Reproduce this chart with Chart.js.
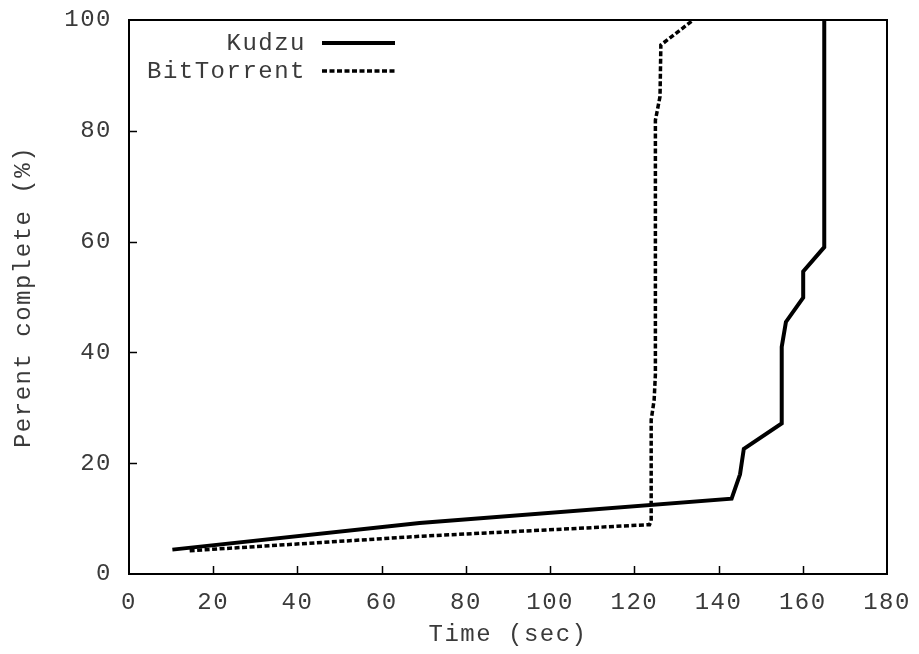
<!DOCTYPE html>
<html lang="en">
<head>
    <meta charset="UTF-8">
    <title>Kudzu vs BitTorrent</title>
    <script src="https://cdn.jsdelivr.net/npm/chart.js@4.4.0/dist/chart.umd.min.js"></script>
    <style>
        body { margin: 0; background: #fff; }
        #wrap { width: 919px; height: 654px; }
    </style>
</head>
<body>
    <div id="wrap"><canvas id="cdfChart"></canvas></div>
    <script>
        // values
        const seriesNames = ['Kudzu', 'BitTorrent'];
        const kudzuTime = [10.3, 69, 143.1, 145.1, 146.0, 155.0, 155.0, 156.0, 160.1, 160.1, 165.1, 165.1];
        const kudzuPct = [4.4, 9.2, 13.6, 18.0, 22.6, 27.2, 41.0, 45.5, 49.9, 54.6, 59.0, 100];
        const btTime = [14.4, 69, 123.6, 124.0, 124.0, 124.7, 125.0, 125.0, 126.1, 126.3, 134.0];
        const btPct = [4.2, 6.8, 8.9, 9.6, 27.8, 31.4, 36.0, 81.9, 86.2, 95.5, 100];
        const xTicks = [0, 20, 40, 60, 80, 100, 120, 140, 160, 180];
        const yTicks = [0, 20, 40, 60, 80, 100];

        const FONT = 'Liberation Mono';
        const SPACING = '1.5px';
        const TEXT = '#3a3a3a';

        function toPoints(xs, ys) {
            return xs.map((x, i) => ({ x: x, y: ys[i] }));
        }

        // gnuplot-like letter spacing for all canvas text
        const spacingPlugin = {
            id: 'spacing',
            beforeUpdate(chart) { chart.ctx.letterSpacing = SPACING; },
            beforeLayout(chart) { chart.ctx.letterSpacing = SPACING; },
            beforeDraw(chart) { chart.ctx.letterSpacing = SPACING; }
        };

        // box border + inward ticks
        const framePlugin = {
            id: 'frame',
            afterDraw(chart) {
                const ctx = chart.ctx;
                const a = chart.chartArea;
                const xs = chart.scales.x, ys = chart.scales.y;
                ctx.save();
                ctx.strokeStyle = '#000';
                ctx.lineWidth = 2;
                ctx.strokeRect(a.left, a.top, a.right - a.left, a.bottom - a.top);
                ctx.lineWidth = 1.5;
                ctx.beginPath();
                xTicks.slice(1, -1).forEach(v => {
                    const px = Math.round(xs.getPixelForValue(v)) + 0.5;
                    ctx.moveTo(px, a.bottom);
                    ctx.lineTo(px, a.bottom - 8);
                });
                yTicks.slice(1, -1).forEach(v => {
                    const py = Math.round(ys.getPixelForValue(v)) + 0.5;
                    ctx.moveTo(a.left, py);
                    ctx.lineTo(a.left + 8, py);
                });
                ctx.stroke();
                ctx.restore();
            }
        };

        // key in the top-left corner: text then line sample
        const keyPlugin = {
            id: 'key',
            afterDraw(chart) {
                const ctx = chart.ctx;
                const a = chart.chartArea;
                ctx.save();
                ctx.letterSpacing = SPACING;
                ctx.font = '24px "' + FONT + '"';
                ctx.fillStyle = TEXT;
                ctx.strokeStyle = '#000';
                ctx.textAlign = 'right';
                ctx.textBaseline = 'middle';
                chart.data.datasets.forEach((ds, i) => {
                    const y = a.top + 23 + i * 28;
                    ctx.fillText(ds.label, a.left + 177, y + 1);
                    ctx.beginPath();
                    ctx.lineWidth = ds.borderWidth;
                    ctx.setLineDash(ds.borderDash || []);
                    ctx.moveTo(a.left + 193, y);
                    ctx.lineTo(a.left + 266, y);
                    ctx.stroke();
                });
                ctx.restore();
            }
        };

        const ctx = document.getElementById('cdfChart').getContext('2d');
        const chart = new Chart(ctx, {
            type: 'line',
            data: {
                datasets: [{
                    label: seriesNames[0],
                    data: toPoints(kudzuTime, kudzuPct),
                    borderColor: '#000',
                    borderWidth: 4,
                    pointRadius: 0,
                    tension: 0
                }, {
                    label: seriesNames[1],
                    data: toPoints(btTime, btPct),
                    borderColor: '#000',
                    borderWidth: 3.5,
                    borderDash: [5, 2.5],
                    pointRadius: 0,
                    tension: 0
                }]
            },
            options: {
                responsive: true,
                maintainAspectRatio: false,
                animation: false,
                layout: { padding: { top: 20, right: 32, left: 0, bottom: 0 } },
                plugins: {
                    legend: { display: false },
                    tooltip: { enabled: false }
                },
                scales: {
                    x: {
                        type: 'linear',
                        min: 0,
                        max: 180,
                        afterBuildTicks(scale) { scale.ticks = xTicks.map(v => ({ value: v })); },
                        afterFit(scale) { scale.height = 80; scale.paddingLeft = 0; scale.paddingRight = 0; },
                        grid: { display: false, drawTicks: false },
                        border: { display: false },
                        ticks: {
                            color: TEXT,
                            padding: 14,
                            maxRotation: 0,
                            font: { family: FONT, size: 24 }
                        },
                        title: {
                            display: true,
                            text: 'Time (sec)',
                            color: TEXT,
                            padding: { top: 0, bottom: 5 },
                            font: { family: FONT, size: 24 }
                        }
                    },
                    y: {
                        min: 0,
                        max: 100,
                        afterBuildTicks(scale) { scale.ticks = yTicks.map(v => ({ value: v })); },
                        afterFit(scale) { scale.width = 129; scale.paddingTop = 0; scale.paddingBottom = 0; },
                        grid: { display: false, drawTicks: false },
                        border: { display: false },
                        ticks: {
                            color: TEXT,
                            padding: 17,
                            font: { family: FONT, size: 24 }
                        },
                        title: {
                            display: true,
                            text: 'Perent complete (%)',
                            color: TEXT,
                            padding: { top: 9, bottom: 0 },
                            font: { family: FONT, size: 24 }
                        }
                    }
                }
            },
            plugins: [spacingPlugin, framePlugin, keyPlugin]
        });
    </script>
</body>
</html>
